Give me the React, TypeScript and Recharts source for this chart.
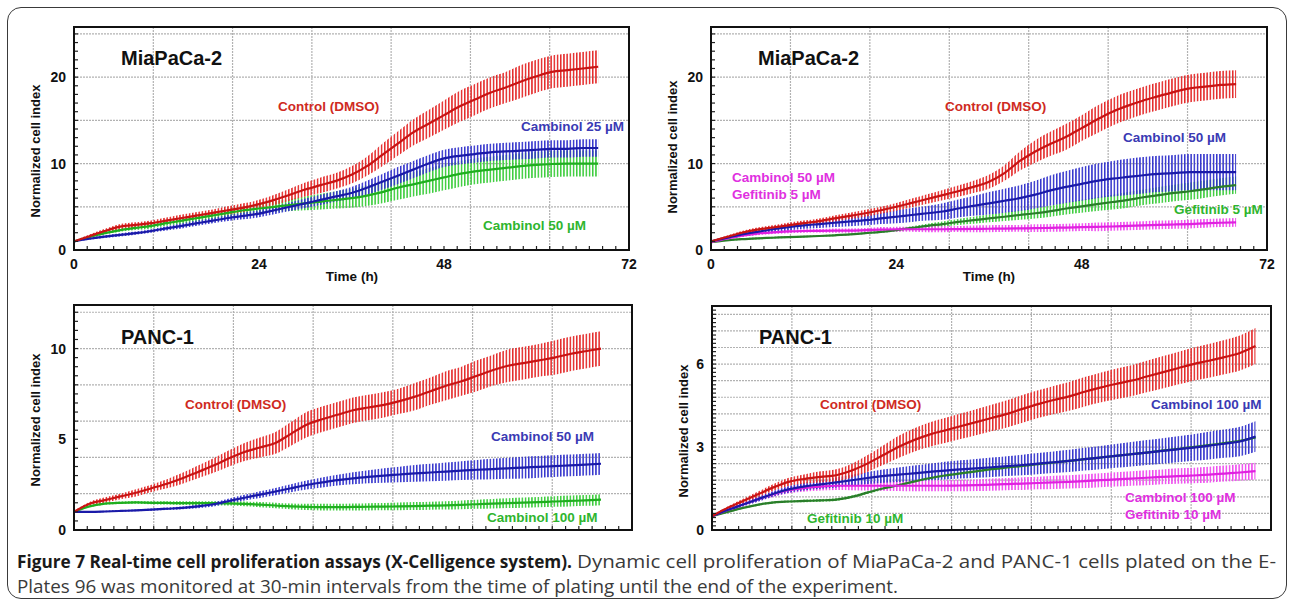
import React from "react";
import { Area, CartesianGrid, ComposedChart, Line, XAxis, YAxis } from "recharts";

// time points (h), every 2 h
const HOURS_68 = [0, 2, 4, 6, 8, 10, 12, 14, 16, 18, 20, 22, 24, 26, 28, 30, 32, 34, 36, 38, 40, 42, 44, 46, 48, 50, 52, 54, 56, 58, 60, 62, 64, 66, 68];
const HOURS_70 = [0, 2, 4, 6, 8, 10, 12, 14, 16, 18, 20, 22, 24, 26, 28, 30, 32, 34, 36, 38, 40, 42, 44, 46, 48, 50, 52, 54, 56, 58, 60, 62, 64, 66, 68, 70];

const X_TICK_VALUES = [0, 24, 48, 72];
const X_TICK_LABELS = ["0", "24", "48", "72"];

// MiaPaCa-2, cambinol 25 / 50
const p1Control = [1.0, 1.6, 2.2, 2.7, 2.9, 3.1, 3.4, 3.7, 4.0, 4.3, 4.6, 4.9, 5.3, 5.8, 6.4, 7.0, 7.5, 8.0, 8.7, 9.7, 11.0, 12.3, 13.6, 14.6, 15.6, 16.6, 17.4, 18.2, 18.8, 19.5, 20.1, 20.6, 20.8, 21.0, 21.2];
const p1ControlErr = [0.1, 0.2, 0.25, 0.3, 0.3, 0.3, 0.35, 0.4, 0.4, 0.4, 0.45, 0.5, 0.5, 0.6, 0.7, 0.8, 0.9, 0.9, 1.0, 1.1, 1.3, 1.4, 1.5, 1.6, 1.7, 1.8, 1.8, 1.8, 1.8, 1.9, 1.9, 1.9, 1.9, 1.9, 1.9];
const p1Camb25 = [1.0, 1.3, 1.55, 1.75, 1.95, 2.2, 2.5, 2.8, 3.1, 3.4, 3.7, 3.95, 4.2, 4.6, 5.0, 5.4, 5.8, 6.2, 6.6, 7.2, 7.9, 8.6, 9.3, 10.0, 10.6, 10.9, 11.1, 11.3, 11.4, 11.5, 11.6, 11.7, 11.7, 11.8, 11.8];
const p1Camb25Err = [0.05, 0.1, 0.15, 0.2, 0.2, 0.2, 0.25, 0.3, 0.3, 0.3, 0.35, 0.4, 0.4, 0.45, 0.5, 0.55, 0.6, 0.6, 0.7, 0.8, 0.9, 1.0, 1.0, 1.0, 1.0, 1.0, 1.0, 1.0, 1.0, 1.0, 1.0, 1.0, 1.0, 1.0, 1.0];
const p1Camb50 = [1.0, 1.5, 1.95, 2.3, 2.55, 2.8, 3.1, 3.4, 3.7, 4.0, 4.3, 4.6, 4.8, 5.0, 5.2, 5.4, 5.6, 5.8, 6.0, 6.3, 6.7, 7.2, 7.6, 8.0, 8.4, 8.8, 9.1, 9.3, 9.5, 9.7, 9.85, 9.95, 10.0, 10.0, 10.0];
const p1Camb50Err = [0.05, 0.1, 0.15, 0.2, 0.25, 0.3, 0.3, 0.35, 0.4, 0.4, 0.45, 0.5, 0.5, 0.6, 0.7, 0.8, 0.9, 1.0, 1.1, 1.2, 1.3, 1.4, 1.4, 1.5, 1.5, 1.5, 1.5, 1.5, 1.5, 1.5, 1.5, 1.5, 1.5, 1.5, 1.5];

// MiaPaCa-2, cambinol 50 / gefitinib 5 / combination
const p2Control = [1.0, 1.5, 2.0, 2.35, 2.6, 2.85, 3.1, 3.35, 3.65, 3.95, 4.25, 4.6, 5.0, 5.45, 5.9, 6.35, 6.8, 7.3, 7.9, 8.9, 10.3, 11.4, 12.3, 13.1, 14.1, 15.1, 16.0, 16.7, 17.3, 17.8, 18.3, 18.7, 18.9, 19.1, 19.2];
const p2ControlErr = [0.1, 0.15, 0.2, 0.25, 0.25, 0.3, 0.3, 0.3, 0.35, 0.35, 0.4, 0.4, 0.45, 0.5, 0.55, 0.6, 0.65, 0.7, 0.8, 0.9, 1.1, 1.3, 1.4, 1.5, 1.5, 1.6, 1.6, 1.6, 1.6, 1.6, 1.6, 1.6, 1.6, 1.6, 1.6];
const p2Camb50 = [1.0, 1.4, 1.8, 2.1, 2.4, 2.65, 2.85, 3.0, 3.15, 3.3, 3.45, 3.65, 3.85, 4.05, 4.25, 4.45, 4.8, 5.1, 5.4, 5.7, 6.0, 6.4, 6.9, 7.3, 7.65, 8.0, 8.25, 8.45, 8.65, 8.8, 8.9, 9.0, 9.0, 9.0, 9.0];
const p2Camb50Err = [0.05, 0.15, 0.25, 0.3, 0.35, 0.4, 0.4, 0.45, 0.5, 0.55, 0.6, 0.65, 0.75, 0.8, 0.85, 0.95, 1.05, 1.15, 1.3, 1.4, 1.5, 1.6, 1.75, 1.85, 1.95, 2.0, 2.05, 2.1, 2.1, 2.1, 2.1, 2.1, 2.1, 2.1, 2.1];
const p2Gef5 = [0.9, 1.1, 1.25, 1.35, 1.42, 1.5, 1.55, 1.62, 1.7, 1.8, 1.95, 2.1, 2.3, 2.55, 2.8, 3.0, 3.25, 3.45, 3.65, 3.85, 4.05, 4.25, 4.5, 4.8, 5.05, 5.3, 5.55, 5.8, 6.1, 6.35, 6.6, 6.8, 7.05, 7.3, 7.5];
const p2Gef5Err = [0.05, 0.05, 0.1, 0.1, 0.1, 0.1, 0.1, 0.1, 0.1, 0.1, 0.1, 0.12, 0.15, 0.2, 0.25, 0.3, 0.35, 0.4, 0.45, 0.5, 0.55, 0.6, 0.65, 0.7, 0.75, 0.8, 0.85, 0.9, 0.9, 0.95, 0.95, 1.0, 1.0, 1.0, 1.0];
const p2Combo = [0.9, 1.3, 1.65, 1.9, 2.05, 2.15, 2.2, 2.22, 2.24, 2.25, 2.3, 2.35, 2.4, 2.4, 2.4, 2.4, 2.42, 2.44, 2.46, 2.48, 2.5, 2.52, 2.56, 2.6, 2.64, 2.68, 2.72, 2.78, 2.84, 2.9, 2.95, 3.0, 3.08, 3.15, 3.2];
const p2ComboErr = [0.05, 0.1, 0.15, 0.2, 0.2, 0.2, 0.2, 0.2, 0.25, 0.25, 0.25, 0.3, 0.3, 0.3, 0.35, 0.35, 0.35, 0.4, 0.4, 0.4, 0.4, 0.45, 0.45, 0.45, 0.45, 0.5, 0.5, 0.5, 0.5, 0.5, 0.5, 0.5, 0.5, 0.5, 0.5];

// PANC-1, cambinol 50 / 100
const p3Control = [1.0, 1.45, 1.65, 1.85, 2.05, 2.3, 2.55, 2.85, 3.2, 3.55, 3.95, 4.3, 4.55, 4.8, 5.3, 5.8, 6.1, 6.35, 6.6, 6.75, 6.9, 7.1, 7.35, 7.65, 7.95, 8.2, 8.5, 8.8, 9.05, 9.2, 9.35, 9.5, 9.7, 9.85, 10.0];
const p3ControlErr = [0.05, 0.1, 0.15, 0.15, 0.2, 0.2, 0.25, 0.3, 0.35, 0.4, 0.45, 0.5, 0.55, 0.6, 0.65, 0.7, 0.7, 0.7, 0.7, 0.7, 0.7, 0.7, 0.75, 0.75, 0.8, 0.8, 0.85, 0.85, 0.9, 0.9, 0.9, 0.95, 0.95, 0.95, 0.95];
const p3Camb50 = [1.0, 1.0, 1.02, 1.05, 1.08, 1.12, 1.17, 1.22, 1.3, 1.42, 1.6, 1.78, 1.95, 2.12, 2.3, 2.48, 2.62, 2.75, 2.85, 2.93, 3.0, 3.06, 3.12, 3.17, 3.22, 3.27, 3.32, 3.36, 3.4, 3.44, 3.48, 3.52, 3.56, 3.6, 3.65];
const p3Camb50Err = [0.03, 0.03, 0.04, 0.05, 0.05, 0.06, 0.07, 0.08, 0.1, 0.12, 0.14, 0.16, 0.18, 0.2, 0.22, 0.25, 0.28, 0.3, 0.33, 0.36, 0.4, 0.43, 0.46, 0.48, 0.5, 0.52, 0.54, 0.56, 0.58, 0.6, 0.6, 0.6, 0.6, 0.6, 0.6];
const p3Camb100 = [1.0, 1.3, 1.45, 1.5, 1.52, 1.5, 1.49, 1.48, 1.48, 1.48, 1.47, 1.44, 1.4, 1.35, 1.3, 1.27, 1.26, 1.26, 1.27, 1.28, 1.29, 1.3, 1.32, 1.34, 1.36, 1.39, 1.42, 1.45, 1.48, 1.51, 1.54, 1.57, 1.6, 1.63, 1.67];
const p3Camb100Err = [0.03, 0.05, 0.06, 0.07, 0.08, 0.08, 0.09, 0.1, 0.1, 0.11, 0.12, 0.13, 0.14, 0.15, 0.16, 0.17, 0.18, 0.18, 0.19, 0.2, 0.2, 0.21, 0.22, 0.22, 0.23, 0.24, 0.25, 0.26, 0.27, 0.28, 0.28, 0.29, 0.3, 0.3, 0.3];

// PANC-1, cambinol 100 / gefitinib 10 / combination
const p4Control = [0.5, 0.8, 1.05, 1.3, 1.55, 1.75, 1.85, 1.92, 1.98, 2.15, 2.4, 2.7, 3.0, 3.25, 3.45, 3.6, 3.75, 3.9, 4.05, 4.2, 4.38, 4.55, 4.7, 4.83, 5.0, 5.15, 5.28, 5.4, 5.55, 5.7, 5.85, 6.0, 6.12, 6.25, 6.4, 6.65];
const p4ControlErr = [0.03, 0.05, 0.08, 0.1, 0.12, 0.15, 0.17, 0.2, 0.22, 0.25, 0.3, 0.35, 0.4, 0.42, 0.44, 0.45, 0.46, 0.47, 0.48, 0.49, 0.5, 0.5, 0.51, 0.52, 0.53, 0.54, 0.55, 0.56, 0.57, 0.58, 0.59, 0.6, 0.61, 0.62, 0.63, 0.65];
const p4Camb100 = [0.5, 0.72, 0.92, 1.12, 1.32, 1.48, 1.58, 1.65, 1.72, 1.8, 1.88, 1.95, 2.0, 2.05, 2.1, 2.15, 2.19, 2.23, 2.27, 2.31, 2.35, 2.4, 2.45, 2.5, 2.56, 2.62, 2.68, 2.74, 2.8, 2.86, 2.92, 2.98, 3.05, 3.12, 3.2, 3.38];
const p4Camb100Err = [0.02, 0.05, 0.07, 0.09, 0.1, 0.12, 0.14, 0.16, 0.18, 0.2, 0.22, 0.24, 0.26, 0.28, 0.3, 0.32, 0.33, 0.34, 0.35, 0.36, 0.37, 0.38, 0.39, 0.4, 0.41, 0.42, 0.43, 0.44, 0.45, 0.46, 0.47, 0.48, 0.5, 0.51, 0.53, 0.55];
const p4Gef10 = [0.5, 0.65, 0.8, 0.92, 1.0, 1.03, 1.05, 1.07, 1.1, 1.2, 1.35, 1.5, 1.62, 1.75, 1.87, 1.97, 2.05, 2.12, 2.2, 2.26, 2.32, 2.38, 2.44, 2.5, 2.56, 2.62, 2.68, 2.74, 2.8, 2.87, 2.93, 3.0, 3.07, 3.14, 3.22, 3.35];
const p4Gef10Err = [0.02, 0.03, 0.03, 0.04, 0.04, 0.04, 0.05, 0.05, 0.05, 0.05, 0.05, 0.05, 0.05, 0.05, 0.05, 0.05, 0.05, 0.05, 0.05, 0.05, 0.05, 0.05, 0.05, 0.05, 0.05, 0.05, 0.05, 0.05, 0.05, 0.05, 0.05, 0.05, 0.05, 0.05, 0.05, 0.05];
const p4Combo = [0.5, 0.72, 0.92, 1.12, 1.3, 1.45, 1.52, 1.57, 1.6, 1.6, 1.6, 1.6, 1.6, 1.6, 1.6, 1.6, 1.61, 1.62, 1.64, 1.66, 1.68, 1.7, 1.72, 1.74, 1.77, 1.8, 1.83, 1.86, 1.89, 1.92, 1.95, 1.97, 2.0, 2.04, 2.08, 2.13];
const p4ComboErr = [0.02, 0.04, 0.06, 0.08, 0.1, 0.12, 0.13, 0.14, 0.15, 0.16, 0.17, 0.18, 0.19, 0.2, 0.2, 0.2, 0.21, 0.21, 0.22, 0.22, 0.23, 0.23, 0.24, 0.24, 0.25, 0.25, 0.26, 0.26, 0.27, 0.27, 0.28, 0.28, 0.29, 0.29, 0.3, 0.3];

const RED = { band: "#e42a2a", line: "#c81414", text: "#cf2a22" };
const BLUE = { band: "#3434cc", line: "#1a1aa8", text: "#3a3ab4" };
const GREEN = { band: "#3ccc3c", line: "#1fae1f", text: "#2fb52f" };
const DARKGREEN = { band: "#3ccc3c", line: "#2a7d2a", text: "#2fb52f" };
const MAGENTA = { band: "#ee4cee", line: "#e020e0", text: "#e030e0" };

const X_GRID = [10.29, 20.57, 30.86, 41.14, 51.43, 61.71];
const X_MINOR = Array.from({ length: 43 }, (_, i) => (i * 72) / 42);
const FONT = '"Liberation Sans", Arial, sans-serif';

type Series = { key: string; mean: number[]; err: number[]; band: string; line: string };

type PanelCfg = {
  id: string;
  left: number;
  top: number;
  width: number;
  height: number;
  plotTop: number;
  right: number;
  yWidth: number;
  xHeight: number;
  hours: number[];
  yMax: number;
  yGrid: number[];
  yMinor: number[];
  yLabels: number[];
  showX: boolean;
  series: Series[];
};

function buildRows(hours: number[], series: Series[]) {
  return hours.map((t, i) => {
    const row: Record<string, any> = { t };
    series.forEach((s) => {
      row[s.key] = s.mean[i];
      row[s.key + "Band"] = [s.mean[i] - s.err[i], s.mean[i] + s.err[i]];
    });
    return row;
  });
}

const near = (a: number, b: number) => Math.abs(a - b) < 1e-6;

function bottomTick(showLabels: boolean) {
  return (props: any) => {
    const { x, y, payload } = props;
    const idx = X_TICK_VALUES.findIndex((v) => near(v, payload.value));
    return (
      <g>
        <line x1={x} x2={x} y1={y} y2={y - 4} stroke="#222" strokeWidth={1.2} />
        {showLabels && idx >= 0 ? (
          <text x={x} y={y + 19} textAnchor="middle" fontSize={14} fontWeight="bold" fontFamily={FONT} fill="#111">
            {X_TICK_LABELS[idx]}
          </text>
        ) : null}
      </g>
    );
  };
}

function topTick(props: any) {
  const { x, y } = props;
  return <line x1={x} x2={x} y1={y} y2={y + 4} stroke="#222" strokeWidth={1.2} />;
}

function leftTick(labels: number[]) {
  return (props: any) => {
    const { x, y, payload } = props;
    const idx = labels.findIndex((v) => near(v, payload.value));
    return (
      <g>
        <line x1={x} x2={x + 4} y1={y} y2={y} stroke="#222" strokeWidth={1.2} />
        {idx >= 0 ? (
          <text x={x - 8} y={y + 5} textAnchor="end" fontSize={14} fontWeight="bold" fontFamily={FONT} fill="#111">
            {String(labels[idx])}
          </text>
        ) : null}
      </g>
    );
  };
}

function rightTick(props: any) {
  const { x, y } = props;
  return <line x1={x} x2={x - 4} y1={y} y2={y} stroke="#222" strokeWidth={1.2} />;
}

function Panel({ cfg }: { cfg: PanelCfg }) {
  const rows = buildRows(cfg.hours, cfg.series);
  const plotW = cfg.width - cfg.right - cfg.yWidth;
  const plotH = cfg.height - cfg.plotTop - cfg.xHeight;
  return (
    <div style={{ position: "absolute", left: cfg.left, top: cfg.top }}>
      <ComposedChart
        width={cfg.width}
        height={cfg.height}
        data={rows}
        margin={{ top: cfg.plotTop, right: cfg.right, bottom: 0, left: 0 }}
      >
        <defs>
          {cfg.series.map((s) => (
            <pattern key={s.key} id={`${cfg.id}-${s.key}`} width={3.2} height={8} patternUnits="userSpaceOnUse">
              <rect x={0} y={0} width={1.5} height={8} fill={s.band} />
            </pattern>
          ))}
        </defs>
        <CartesianGrid
          horizontalValues={cfg.yGrid}
          verticalValues={X_GRID}
          stroke="#b2b2b2"
          strokeDasharray="2 1"
          strokeWidth={1.2}
        />
        <XAxis
          dataKey="t"
          type="number"
          domain={[0, 72]}
          ticks={X_MINOR}
          interval={0}
          tickSize={0}
          tickMargin={0}
          tickLine={false}
          axisLine={false}
          height={cfg.xHeight}
          tick={bottomTick(cfg.showX)}
          allowDataOverflow
        />
        <XAxis
          xAxisId="top"
          dataKey="t"
          orientation="top"
          type="number"
          domain={[0, 72]}
          ticks={X_MINOR}
          interval={0}
          tickSize={0}
          tickMargin={0}
          tickLine={false}
          axisLine={false}
          height={0}
          tick={topTick}
          allowDataOverflow
        />
        <YAxis
          type="number"
          domain={[0, cfg.yMax]}
          ticks={cfg.yMinor}
          interval={0}
          tickSize={0}
          tickMargin={0}
          tickLine={false}
          axisLine={false}
          width={cfg.yWidth}
          tick={leftTick(cfg.yLabels)}
          allowDataOverflow
        />
        <YAxis
          yAxisId="right"
          orientation="right"
          type="number"
          domain={[0, cfg.yMax]}
          ticks={cfg.yMinor}
          interval={0}
          tickSize={0}
          tickMargin={0}
          tickLine={false}
          axisLine={false}
          width={0}
          tick={rightTick}
          allowDataOverflow
        />
        {cfg.series.map((s) => (
          <Area
            key={s.key + "Band"}
            dataKey={s.key + "Band"}
            type="monotone"
            stroke="none"
            fill={`url(#${cfg.id}-${s.key})`}
            fillOpacity={1}
            isAnimationActive={false}
          />
        ))}
        {cfg.series.map((s) => (
          <Line
            key={s.key}
            dataKey={s.key}
            type="monotone"
            stroke={s.line}
            strokeWidth={2.2}
            dot={false}
            isAnimationActive={false}
          />
        ))}
      </ComposedChart>
      {/* plot frame */}
      <div
        style={{
          position: "absolute",
          left: cfg.yWidth - 1,
          top: cfg.plotTop - 1,
          width: plotW + 2,
          height: plotH + 2,
          border: "2px solid #111",
          boxSizing: "border-box",
          pointerEvents: "none",
        }}
      />
    </div>
  );
}

const MINOR_25 = Array.from({ length: 26 }, (_, i) => i);
const MINOR_12 = Array.from({ length: 25 }, (_, i) => i * 0.5);
const MINOR_8 = Array.from({ length: 55 }, (_, i) => i * 0.15);

const PANELS: PanelCfg[] = [
  {
    id: "p1", left: 0, top: 0, width: 640, height: 290, plotTop: 27, right: 11, yWidth: 74, xHeight: 40,
    hours: HOURS_68, yMax: 25.8, yGrid: [5, 10, 15, 20, 25], yMinor: MINOR_25, yLabels: [0, 10, 20], showX: true,
    series: [
      { key: "camb50", mean: p1Camb50, err: p1Camb50Err, ...GREEN },
      { key: "camb25", mean: p1Camb25, err: p1Camb25Err, ...BLUE },
      { key: "control", mean: p1Control, err: p1ControlErr, ...RED },
    ],
  },
  {
    id: "p2", left: 640, top: 0, width: 640, height: 290, plotTop: 27, right: 13, yWidth: 71, xHeight: 40,
    hours: HOURS_68, yMax: 25.8, yGrid: [5, 10, 15, 20, 25], yMinor: MINOR_25, yLabels: [0, 10, 20], showX: true,
    series: [
      { key: "gef5", mean: p2Gef5, err: p2Gef5Err, ...DARKGREEN },
      { key: "combo", mean: p2Combo, err: p2ComboErr, ...MAGENTA },
      { key: "camb50", mean: p2Camb50, err: p2Camb50Err, ...BLUE },
      { key: "control", mean: p2Control, err: p2ControlErr, ...RED },
    ],
  },
  {
    id: "p3", left: 0, top: 280, width: 640, height: 260, plotTop: 25, right: 8, yWidth: 74, xHeight: 10,
    hours: HOURS_68, yMax: 12.4, yGrid: [2, 4, 6, 8, 10, 12], yMinor: MINOR_12, yLabels: [0, 5, 10], showX: false,
    series: [
      { key: "camb100", mean: p3Camb100, err: p3Camb100Err, ...GREEN },
      { key: "camb50", mean: p3Camb50, err: p3Camb50Err, ...BLUE },
      { key: "control", mean: p3Control, err: p3ControlErr, ...RED },
    ],
  },
  {
    id: "p4", left: 640, top: 280, width: 640, height: 260, plotTop: 26, right: 9, yWidth: 72, xHeight: 10,
    hours: HOURS_70, yMax: 8.1,
    yGrid: [0.6, 1.2, 1.8, 2.4, 3.0, 3.6, 4.2, 4.8, 5.4, 6.0, 6.6, 7.2, 7.8], yMinor: MINOR_8, yLabels: [0, 3, 6], showX: false,
    series: [
      { key: "gef10", mean: p4Gef10, err: p4Gef10Err, ...DARKGREEN },
      { key: "combo", mean: p4Combo, err: p4ComboErr, ...MAGENTA },
      { key: "camb100", mean: p4Camb100, err: p4Camb100Err, ...BLUE },
      { key: "control", mean: p4Control, err: p4ControlErr, ...RED },
    ],
  },
];

// text placed on the panels: left x, centre y
const NOTES = [
  { text: "MiaPaCa-2", x: 121, y: 58, color: "#111", size: 20 },
  { text: "Control (DMSO)", x: 278, y: 107, color: RED.text, size: 13.5 },
  { text: "Cambinol 25 µM", x: 521, y: 127, color: BLUE.text, size: 13.5 },
  { text: "Cambinol 50 µM", x: 483, y: 226, color: GREEN.text, size: 13.5 },
  { text: "MiaPaCa-2", x: 758, y: 58, color: "#111", size: 20 },
  { text: "Control (DMSO)", x: 945, y: 107, color: RED.text, size: 13.5 },
  { text: "Cambinol 50 µM", x: 1123, y: 138, color: BLUE.text, size: 13.5 },
  { text: "Cambinol 50 µM", x: 732, y: 178, color: MAGENTA.text, size: 13.5 },
  { text: "Gefitinib 5 µM", x: 732, y: 195, color: MAGENTA.text, size: 13.5 },
  { text: "Gefitinib 5 µM", x: 1174, y: 210, color: GREEN.text, size: 13.5 },
  { text: "PANC-1", x: 121, y: 337, color: "#111", size: 20 },
  { text: "Control (DMSO)", x: 185, y: 405, color: RED.text, size: 13.5 },
  { text: "Cambinol 50 µM", x: 491, y: 437, color: BLUE.text, size: 13.5 },
  { text: "Cambinol 100 µM", x: 487, y: 518, color: GREEN.text, size: 13.5 },
  { text: "PANC-1", x: 759, y: 337, color: "#111", size: 20 },
  { text: "Control (DMSO)", x: 820, y: 405, color: RED.text, size: 13.5 },
  { text: "Cambinol 100 µM", x: 1151, y: 405, color: BLUE.text, size: 13.5 },
  { text: "Cambinol 100 µM", x: 1125, y: 498, color: MAGENTA.text, size: 13.5 },
  { text: "Gefitinib 10 µM", x: 1125, y: 515, color: MAGENTA.text, size: 13.5 },
  { text: "Gefitinib 10 µM", x: 807, y: 519, color: GREEN.text, size: 13.5 },
];

const Y_TITLES = [
  { x: 35, y: 151 },
  { x: 672, y: 147 },
  { x: 35, y: 420 },
  { x: 683, y: 431 },
];

const X_TITLES = [
  { x: 352, y: 277 },
  { x: 989, y: 277 },
];

const CAPTION_FONT = '"Open Sans", sans-serif';

export default function App() {
  return (
    <div
      style={{
        position: "absolute",
        left: 0,
        top: 0,
        width: 1290,
        height: 604,
        background: "#fff",
        overflow: "hidden",
        fontFamily: FONT,
      }}
    >
      <div
        style={{
          position: "absolute",
          left: 7,
          top: 7,
          width: 1280,
          height: 592,
          border: "1.5px solid #3a3a3a",
          borderRadius: 14,
          boxSizing: "border-box",
        }}
      />
      {PANELS.map((p) => (
        <Panel key={p.id} cfg={p} />
      ))}
      {NOTES.map((n, i) => (
        <div
          key={i}
          style={{
            position: "absolute",
            left: n.x,
            top: n.y - n.size / 2,
            fontSize: n.size,
            lineHeight: `${n.size}px`,
            fontWeight: "bold",
            color: n.color,
            whiteSpace: "nowrap",
          }}
        >
          {n.text}
        </div>
      ))}
      {Y_TITLES.map((t, i) => (
        <div
          key={"y" + i}
          style={{
            position: "absolute",
            left: t.x,
            top: t.y,
            fontSize: 13,
            lineHeight: "13px",
            fontWeight: "bold",
            color: "#111",
            whiteSpace: "nowrap",
            transform: "translate(-50%, -50%) rotate(-90deg)",
          }}
        >
          Normalized cell index
        </div>
      ))}
      {X_TITLES.map((t, i) => (
        <div
          key={"x" + i}
          style={{
            position: "absolute",
            left: t.x,
            top: t.y,
            fontSize: 13.5,
            lineHeight: "14px",
            fontWeight: "bold",
            color: "#111",
            whiteSpace: "nowrap",
            transform: "translate(-50%, -50%)",
          }}
        >
          Time (h)
        </div>
      ))}
      <svg style={{ position: "absolute", left: 0, top: 545 }} width={1290} height={55}>
        <text x={17} y={23} fontSize={18} fontFamily={CAPTION_FONT} fontWeight="bold" fill="#1a1a1a" textLength={555} lengthAdjust="spacingAndGlyphs">
          Figure 7 Real-time cell proliferation assays (X-Celligence system).
        </text>
        <text x={577} y={23} fontSize={18} fontFamily={CAPTION_FONT} fill="#3a3a3a" textLength={699} lengthAdjust="spacingAndGlyphs">
          Dynamic cell proliferation of MiaPaCa-2 and PANC-1 cells plated on the E-
        </text>
        <text x={17} y={48} fontSize={18} fontFamily={CAPTION_FONT} fill="#3a3a3a" textLength={881} lengthAdjust="spacingAndGlyphs">
          Plates 96 was monitored at 30-min intervals from the time of plating until the end of the experiment.
        </text>
      </svg>
    </div>
  );
}
